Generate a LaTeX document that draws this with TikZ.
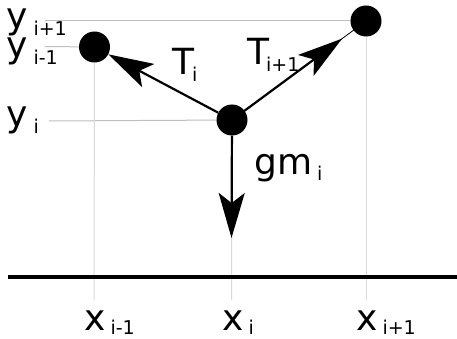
\documentclass[tikz,border=0pt]{standalone}
\usepackage{fontspec}
\setmainfont{DejaVu Sans}
\usetikzlibrary{arrows.meta}
\newcommand{\lab}[4][5pt]{#3\hspace{#1}\raisebox{-#2}{\fontsize{19}{21}\selectfont #4}}
\tikzset{
  dot/.style={circle, fill=black, minimum size=31pt, inner sep=0pt},
  guideh/.style={draw=black!25, line width=1pt},
  guidev/.style={draw=black!15, line width=1pt},
  ground/.style={line width=3.6pt},
  force/.style={line width=2.2pt, -{Stealth[length=45pt, width=26pt, inset=10pt]}},
  thinlink/.style={line width=0.8pt},
  lbl/.style={anchor=base west, inner sep=0pt, font=\fontsize{36}{40}\selectfont},
}
\begin{document}
\begin{tikzpicture}[x=1pt, y=-1pt]
\useasboundingbox (0,0) rectangle (457,339);
% positions
\coordinate (im1p) at (94.5,47);
\coordinate (ip) at (232,120);
\coordinate (ip1p) at (366,21);
% guide line end points
\coordinate (hy1) at (45,21);
\coordinate (hy2) at (45,46.5);
\coordinate (hy3) at (49,121);
\coordinate (vx1) at (94,300);
\coordinate (vx2) at (231.5,300);
\coordinate (vx3) at (366,300);
% guides
\draw[guideh] (hy1) -- (ip1p);
\draw[guideh] (hy2) -- (im1p);
\draw[guideh] (hy3) -- (ip);
\draw[guidev] (im1p) -- (vx1);
\draw[guidev] (ip) -- (vx2);
\draw[guidev] (ip1p) -- (vx3);
% ground
\coordinate (gl) at (8,277);
\coordinate (gr) at (457,277);
\draw[ground] (gl) -- (gr);
% masses
\node[dot] (im1) at (im1p) {};
\node[dot] (i) at (ip) {};
\node[dot] (ip1) at (ip1p) {};
\coordinate (g) at (231.5,238);
% forces
\draw[force] (i) -- (im1);
\draw[thinlink] (i.center) -- (ip1.center);
\draw[force, shorten >=14pt] (i) -- (ip1);
\draw[force] (i) -- (g);
% labels
\node[lbl] (ly1) at (6,29) {\lab[6pt]{7pt}{y}{i+1}};
\node[lbl] (ly2) at (6,58) {\lab[6pt]{6.5pt}{y}{i-1}};
\node[lbl] (ly3) at (6,127) {\lab[6pt]{7pt}{y}{i}};
\node[lbl] (lx1) at (84,330.5) {\lab{4pt}{x}{i-1}};
\node[lbl] (lx2) at (222,330.5) {\lab{4pt}{x}{i}};
\node[lbl] (lx3) at (356,330.5) {\lab{4pt}{x}{i+1}};
\node[lbl] (lt1) at (172,75) {\lab[-2pt]{6.5pt}{T}{i}};
\node[lbl] (lt2) at (247,65) {\lab[-3pt]{7pt}{T}{i+1}};
\node[lbl] (lg) at (254,174) {\lab{6.5pt}{gm}{i}};
\end{tikzpicture}
\end{document}
